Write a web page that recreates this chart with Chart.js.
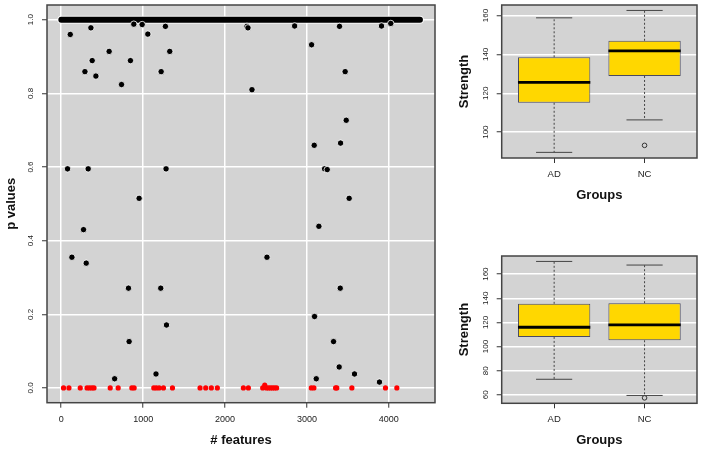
<!DOCTYPE html>
<html><head><meta charset="utf-8">
<script src="https://cdn.jsdelivr.net/npm/chart.js@4.4.1/dist/chart.umd.min.js"></script>
<style>
html,body{margin:0;padding:0;background:#fff;}
#wrap{position:relative;width:702px;height:450px;overflow:hidden;background:#fff;}
canvas{position:absolute;}
</style></head><body>
<div id="wrap">
<canvas id="c1" width="440" height="450" style="left:0;top:0;width:440px;height:450px"></canvas>
<canvas id="c2" width="262" height="225" style="left:440px;top:0;width:262px;height:225px"></canvas>
<canvas id="c3" width="262" height="225" style="left:440px;top:225px;width:262px;height:225px"></canvas>
</div>
<script>
// ---------- DATA ----------
// Left panel: p values per feature
const featureTicks = [0, 1000, 2000, 3000, 4000];
const pTicks = [0, 0.2, 0.4, 0.6, 0.8, 1.0];
const onesRange = [1, 4380];            // features with p = 1 (dense band)
const blackFeatures = [77,110,130,272,289,305,329,362,378,423,585,652,736,821,829,845,886,951,988,1057,1157,1215,1220,1272,1280,1285,1325,2268,2280,2329,2512,2850,3057,3089,3093,3114,3146,3216,3248,3325,3394,3398,3407,3411,3467,3480,3516,3581,3886,3911,4024];
const blackPValues  = [0.595,0.960,0.355,0.430,0.859,0.339,0.595,0.978,0.889,0.847,0.914,0.025,0.824,0.271,0.126,0.889,0.988,0.515,0.987,0.961,0.038,0.271,0.859,0.982,0.595,0.171,0.914,0.982,0.978,0.810,0.355,0.983,0.932,0.659,0.194,0.025,0.439,0.595,0.593,0.126,0.057,0.982,0.271,0.665,0.859,0.727,0.515,0.038,0.016,0.983,0.990];
const redFeatures = [28,94,232,315,345,375,400,598,695,862,890,1130,1160,1195,1248,1358,1695,1764,1833,1906,2224,2285,2460,2485,2505,2530,2555,2580,2605,2630,3053,3085,3350,3365,3549,3959,4098];
const redPValues  = [0,0,0,0,0,0,0,0,0,0,0,0,0,0,0,0,0,0,0,0,0,0,0,0.008,0,0,0,0,0,0,0,0,0,0,0,0,0];

// Right panels: boxplot statistics
const groups = ['AD', 'NC'];
const topTicks = [100, 120, 140, 160];
const topLow  = [89.6, 106.3];
const topQ1   = [115.1, 128.9];
const topMed  = [125.6, 141.8];
const topQ3   = [138.5, 147.0];
const topHigh = [158.8, 162.6];
const topOutGroup = [2];
const topOutValue = [93.2];

const botTicks = [60, 80, 100, 120, 140, 160];
const botLow  = [72.9, 59.5];
const botQ1   = [108.0, 105.2];
const botMed  = [116.0, 117.9];
const botQ3   = [135.4, 135.9];
const botHigh = [170.5, 167.5];
const botOutGroup = [2];
const botOutValue = [57.5];

// ---------- HELPERS ----------
const FONT = '"Liberation Sans", Arial, Helvetica, sans-serif';
Chart.defaults.font.family = FONT;
Chart.defaults.color = '#222';

function makePanel(fmt) {
  return {
    id: 'panel',
    beforeDraw(chart) {
      const {ctx, chartArea: a} = chart;
      ctx.save();
      ctx.fillStyle = '#d3d3d3';
      ctx.fillRect(a.left, a.top, a.right - a.left, a.bottom - a.top);
      ctx.restore();
    },
    afterDraw(chart) {
      const {ctx, chartArea: a} = chart;
      ctx.save();
      ctx.strokeStyle = '#444';
      ctx.lineWidth = 1.5;
      ctx.strokeRect(a.left, a.top, a.right - a.left, a.bottom - a.top);
      const ys = chart.scales.y;
      ctx.fillStyle = '#222';
      ctx.font = '8px ' + FONT;
      ctx.textAlign = 'center';
      ctx.textBaseline = 'middle';
      ys.ticks.forEach(t => {
        const py = ys.getPixelForValue(t.value);
        ctx.save();
        ctx.translate(a.left - 16, py);
        ctx.rotate(-Math.PI / 2);
        ctx.fillText(fmt(t.value), 0, 0);
        ctx.restore();
      });
      ctx.restore();
    }
  };
}

function fixedTicks(arr) {
  return function (scale) { scale.ticks = arr.map(v => ({value: v})); };
}

// ---------- LEFT: p values ----------
new Chart(document.getElementById('c1'), {
  type: 'scatter',
  data: {
    datasets: [
      {
        data: redFeatures.map((f, i) => ({x: f, y: redPValues[i]})),
        backgroundColor: '#ff0000', borderWidth: 0, pointRadius: 2.6, order: 1
      },
      {
        data: blackFeatures.map((f, i) => ({x: f, y: blackPValues[i]})),
        backgroundColor: '#000', borderColor: 'rgba(255,255,255,0.8)', borderWidth: 1, pointRadius: 3.2, order: 2
      },
      {
        data: onesRange.map(f => ({x: f, y: 1})),
        showLine: true, borderColor: '#000', borderWidth: 6, borderCapStyle: 'round', pointRadius: 0, order: 3
      },
      {
        data: onesRange.map(f => ({x: f, y: 1})),
        showLine: true, borderColor: 'rgba(255,255,255,0.8)', borderWidth: 8, borderCapStyle: 'round', pointRadius: 0, order: 4
      }
    ]
  },
  options: {
    responsive: false, animation: false, events: [],
    layout: {padding: {left: 0, top: 4, right: 5, bottom: 0}},
    plugins: {legend: {display: false}, tooltip: {enabled: false}},
    scales: {
      x: {
        type: 'linear', min: -174, max: 4564,
        afterBuildTicks: fixedTicks(featureTicks),
        afterFit(s) { s.height = 47.3; },
        border: {display: false},
        grid: {color: '#fff', lineWidth: 1.5, tickColor: '#333', tickWidth: 1, tickLength: 5},
        ticks: {font: {size: 9}, padding: 6, maxRotation: 0, callback: v => String(v)},
        title: {display: true, text: '# features', font: {size: 13, weight: 'bold', lineHeight: 1}, padding: {top: 0, bottom: 3.5}, color: '#111'}
      },
      y: {
        type: 'linear', min: -0.04, max: 1.04,
        afterBuildTicks: fixedTicks(pTicks),
        afterFit(s) { s.width = 47; },
        border: {display: false},
        grid: {color: '#fff', lineWidth: 1.5, tickColor: '#333', tickWidth: 1, tickLength: 5},
        ticks: {display: false},
        title: {display: true, text: 'p values', font: {size: 13, weight: 'bold', lineHeight: 1}, padding: {top: 4.5, bottom: 0}, color: '#111'}
      }
    }
  },
  plugins: [makePanel(v => v.toFixed(1))]
});

// ---------- RIGHT: boxplots ----------
function makeBoxDecor(low, med, high) {
  return {
    id: 'boxDecor',
    afterDatasetsDraw(chart) {
      const ctx = chart.ctx;
      const ys = chart.scales.y;
      const meta = chart.getDatasetMeta(0);
      meta.data.forEach((bar, i) => {
        const cx = bar.x, w = bar.width;
        const pQ3 = Math.min(bar.y, bar.base), pQ1 = Math.max(bar.y, bar.base);
        const pHi = ys.getPixelForValue(high[i]);
        const pLo = ys.getPixelForValue(low[i]);
        const pMed = ys.getPixelForValue(med[i]);
        ctx.save();
        ctx.strokeStyle = '#444';
        ctx.lineWidth = 1;
        ctx.setLineDash([2, 2]);
        ctx.beginPath();
        ctx.moveTo(cx, pQ3); ctx.lineTo(cx, pHi);
        ctx.moveTo(cx, pQ1); ctx.lineTo(cx, pLo);
        ctx.stroke();
        ctx.setLineDash([]);
        ctx.beginPath();
        ctx.moveTo(cx - w / 4, pHi); ctx.lineTo(cx + w / 4, pHi);
        ctx.moveTo(cx - w / 4, pLo); ctx.lineTo(cx + w / 4, pLo);
        ctx.stroke();
        ctx.strokeStyle = '#000';
        ctx.lineWidth = 2.8;
        ctx.beginPath();
        ctx.moveTo(cx - w / 2, pMed); ctx.lineTo(cx + w / 2, pMed);
        ctx.stroke();
        ctx.restore();
      });
    }
  };
}

function boxChart(id, q1, med, q3, low, high, outG, outV, yMin, yMax, yTicks, padTop, xHeight, tickPad, titleBottom) {
  new Chart(document.getElementById(id), {
    type: 'bar',
    data: {
      datasets: [
        {
          type: 'bar',
          data: groups.map((g, i) => ({x: i + 1, y: [q1[i], q3[i]]})),
          backgroundColor: '#ffd700', borderColor: '#4a4a60', borderWidth: 1, borderSkipped: false,
          categoryPercentage: 0.8, barPercentage: 1, order: 2
        },
        {
          type: 'scatter',
          data: outG.map((g, i) => ({x: g, y: outV[i]})),
          backgroundColor: 'rgba(0,0,0,0)', borderColor: '#333', borderWidth: 1, pointRadius: 2.3, order: 1
        }
      ]
    },
    options: {
      responsive: false, animation: false, events: [],
      layout: {padding: {left: 0, top: padTop, right: 2.7, bottom: 0}},
      plugins: {legend: {display: false}, tooltip: {enabled: false}},
      scales: {
        x: {
          type: 'linear', min: 0.42, max: 2.58, offset: false,
          afterBuildTicks: fixedTicks([1, 2]),
          afterFit(s) { s.height = xHeight; },
          border: {display: false},
          grid: {offset: false, drawOnChartArea: false, tickColor: '#333', tickWidth: 1, tickLength: 5},
          ticks: {font: {size: 9.5}, padding: tickPad, maxRotation: 0, callback: v => groups[v - 1]},
          title: {display: true, text: 'Groups', font: {size: 13, weight: 'bold', lineHeight: 1}, padding: {top: 0, bottom: titleBottom}, color: '#111'}
        },
        y: {
          type: 'linear', min: yMin, max: yMax,
          afterBuildTicks: fixedTicks(yTicks),
          afterFit(s) { s.width = 61.7; },
          border: {display: false},
          grid: {color: '#fff', lineWidth: 1.5, tickColor: '#333', tickWidth: 1, tickLength: 5},
          ticks: {display: false},
          title: {display: true, text: 'Strength', font: {size: 13, weight: 'bold', lineHeight: 1}, padding: {top: 17.5, bottom: 0}, color: '#111'}
        }
      }
    },
    plugins: [makePanel(v => String(v)), makeBoxDecor(low, med, high)]
  });
}

boxChart('c2', topQ1, topMed, topQ3, topLow, topHigh, topOutGroup, topOutValue, 86.7, 165.4, topTicks, 4, 67, 6, 23.5);
boxChart('c3', botQ1, botMed, botQ3, botLow, botHigh, botOutGroup, botOutValue, 53.0, 175.0, botTicks, 31, 46.7, 5.5, 3.5);
</script>
</body></html>
